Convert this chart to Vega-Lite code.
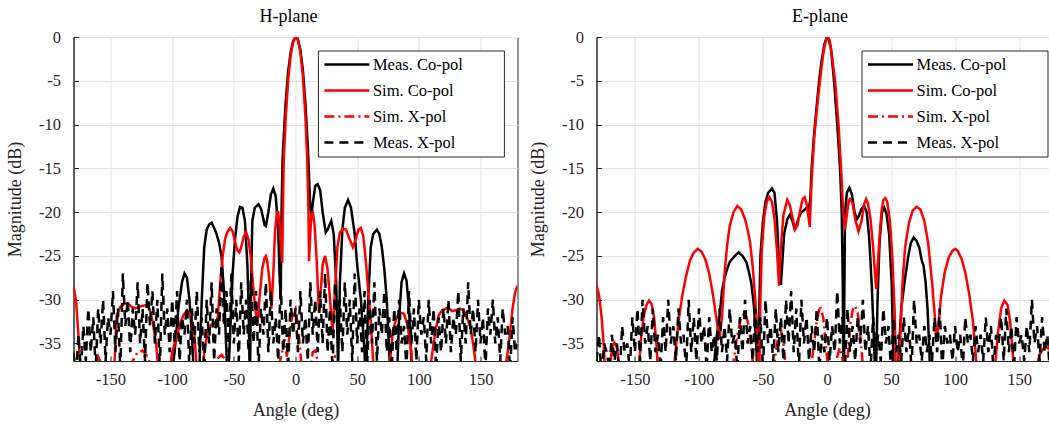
{
 "$schema":"https://vega.github.io/schema/vega-lite/v6.json",
 "background":"white",
 "padding":{"left":5.5,"top":7,"right":0,"bottom":5},
 "bounds":"flush",
 "spacing":79,
 "datasets":{
  "Hmc":[{"a":-180,"v":-45},{"a":-175,"v":-40},{"a":-170,"v":-38},{"a":-165,"v":-42},{"a":-160,"v":-39},{"a":-150,"v":-41},{"a":-140,"v":-40},{"a":-130,"v":-42},{"a":-120,"v":-40},{"a":-110,"v":-43},{"a":-102,"v":-40},{"a":-98,"v":-36},{"a":-95,"v":-31},{"a":-92,"v":-28},{"a":-90,"v":-27},{"a":-88,"v":-27.5},{"a":-86,"v":-30},{"a":-84,"v":-34},{"a":-82,"v":-40},{"a":-80,"v":-44},{"a":-78,"v":-38},{"a":-76,"v":-30},{"a":-74,"v":-24},{"a":-72,"v":-22},{"a":-70,"v":-21.4},{"a":-68,"v":-21.2},{"a":-66,"v":-21.8},{"a":-64,"v":-22.5},{"a":-62,"v":-23.5},{"a":-60,"v":-25},{"a":-58,"v":-29},{"a":-56,"v":-36},{"a":-55,"v":-40},{"a":-53,"v":-34},{"a":-51,"v":-27},{"a":-49,"v":-23},{"a":-47,"v":-20.5},{"a":-45,"v":-19.4},{"a":-43,"v":-19.5},{"a":-41,"v":-21},{"a":-39,"v":-26},{"a":-38,"v":-31},{"a":-37,"v":-40},{"a":-36,"v":-28},{"a":-35,"v":-21},{"a":-33,"v":-19.5},{"a":-30,"v":-19.1},{"a":-28,"v":-19.6},{"a":-26,"v":-20.8},{"a":-25,"v":-21.5},{"a":-24,"v":-21.6},{"a":-22,"v":-20},{"a":-20,"v":-18},{"a":-18,"v":-17.3},{"a":-16,"v":-18.2},{"a":-14,"v":-22},{"a":-13,"v":-27},{"a":-12,"v":-30},{"a":-11.3,"v":-20},{"a":-10.5,"v":-14},{"a":-9,"v":-10},{"a":-8,"v":-7.5},{"a":-6,"v":-4},{"a":-4,"v":-1.8},{"a":-2,"v":-0.5},{"a":0,"v":0},{"a":1,"v":0},{"a":2,"v":-0.3},{"a":4,"v":-1.5},{"a":6,"v":-3.8},{"a":8,"v":-7.5},{"a":10,"v":-12.5},{"a":11,"v":-16},{"a":12,"v":-19.5},{"a":13,"v":-20.5},{"a":14,"v":-19},{"a":16,"v":-17},{"a":18,"v":-16.8},{"a":20,"v":-17.5},{"a":22,"v":-20},{"a":24.5,"v":-22.3},{"a":26,"v":-22},{"a":29,"v":-21},{"a":31,"v":-22.5},{"a":33,"v":-28},{"a":34.5,"v":-38},{"a":36,"v":-28},{"a":38,"v":-22},{"a":40,"v":-19.5},{"a":42.6,"v":-18.6},{"a":45,"v":-19.5},{"a":48,"v":-22.5},{"a":50,"v":-26},{"a":53,"v":-30},{"a":56,"v":-36},{"a":57,"v":-40},{"a":59,"v":-30},{"a":61,"v":-24},{"a":63,"v":-22.5},{"a":66,"v":-22},{"a":68,"v":-22.5},{"a":70,"v":-24},{"a":72,"v":-26.5},{"a":74,"v":-30},{"a":76,"v":-36},{"a":78,"v":-42},{"a":80,"v":-45},{"a":82,"v":-40},{"a":84,"v":-32},{"a":86,"v":-28},{"a":88,"v":-27},{"a":90,"v":-27.8},{"a":92,"v":-31},{"a":94,"v":-37},{"a":96,"v":-42},{"a":100,"v":-40},{"a":110,"v":-43},{"a":120,"v":-39},{"a":130,"v":-41},{"a":140,"v":-40},{"a":150,"v":-42},{"a":160,"v":-39},{"a":170,"v":-41},{"a":180,"v":-45}],
  "Hsc":[{"a":-180,"v":-28.5},{"a":-178,"v":-30},{"a":-176,"v":-34},{"a":-174,"v":-39},{"a":-172,"v":-48},{"a":-168,"v":-42},{"a":-164,"v":-38.5},{"a":-160,"v":-36.5},{"a":-157,"v":-37.5},{"a":-154,"v":-42},{"a":-150,"v":-48},{"a":-147,"v":-38},{"a":-145,"v":-31.8},{"a":-142,"v":-30.8},{"a":-139,"v":-30.5},{"a":-136,"v":-30.4},{"a":-133,"v":-30.8},{"a":-130,"v":-31},{"a":-127,"v":-30.8},{"a":-124,"v":-30.7},{"a":-120,"v":-30.6},{"a":-118,"v":-31.2},{"a":-116,"v":-32.4},{"a":-113,"v":-35},{"a":-110,"v":-40},{"a":-108,"v":-45},{"a":-104,"v":-40},{"a":-100,"v":-36},{"a":-97,"v":-34.5},{"a":-94,"v":-33},{"a":-91,"v":-31.8},{"a":-88,"v":-31.2},{"a":-85,"v":-31.8},{"a":-82,"v":-34},{"a":-80,"v":-38},{"a":-78,"v":-45},{"a":-76,"v":-40},{"a":-74,"v":-36},{"a":-71,"v":-33.5},{"a":-68,"v":-32.8},{"a":-65,"v":-32.6},{"a":-63,"v":-32},{"a":-61,"v":-28},{"a":-59,"v":-25},{"a":-57,"v":-23},{"a":-55,"v":-22.2},{"a":-53,"v":-21.8},{"a":-51,"v":-22.2},{"a":-49,"v":-23.4},{"a":-47,"v":-24.4},{"a":-45.5,"v":-24.6},{"a":-44,"v":-24},{"a":-42,"v":-22.8},{"a":-40,"v":-22.3},{"a":-38,"v":-23.2},{"a":-36,"v":-25.5},{"a":-34.8,"v":-27.7},{"a":-33,"v":-30.5},{"a":-31,"v":-33},{"a":-29,"v":-29.5},{"a":-27,"v":-26.5},{"a":-25,"v":-25.2},{"a":-24,"v":-25},{"a":-23,"v":-25.5},{"a":-21,"v":-28},{"a":-19.5,"v":-31},{"a":-18,"v":-27},{"a":-16.5,"v":-22},{"a":-15,"v":-20},{"a":-14,"v":-20},{"a":-13,"v":-21.5},{"a":-12,"v":-23.5},{"a":-10.8,"v":-25.8},{"a":-10.2,"v":-20},{"a":-9.5,"v":-14},{"a":-8,"v":-9.5},{"a":-6,"v":-5},{"a":-4,"v":-2.2},{"a":-2,"v":-0.6},{"a":0,"v":0},{"a":1,"v":0},{"a":2,"v":-0.4},{"a":4,"v":-1.8},{"a":6,"v":-4.5},{"a":8,"v":-9},{"a":9.5,"v":-14},{"a":10.5,"v":-20},{"a":11,"v":-25.6},{"a":11.8,"v":-23},{"a":12.8,"v":-20.5},{"a":14,"v":-19.9},{"a":15.5,"v":-21.5},{"a":17,"v":-25},{"a":19,"v":-31.5},{"a":20.5,"v":-29},{"a":22,"v":-26},{"a":24,"v":-25},{"a":26,"v":-26.5},{"a":28,"v":-30},{"a":30,"v":-33.8},{"a":32,"v":-29},{"a":34,"v":-24},{"a":36,"v":-22.3},{"a":38.5,"v":-21.9},{"a":41,"v":-22},{"a":43,"v":-22.8},{"a":46.5,"v":-24},{"a":49,"v":-23},{"a":51,"v":-22},{"a":53,"v":-21.8},{"a":55,"v":-22.8},{"a":57,"v":-25.5},{"a":59,"v":-29},{"a":61,"v":-32.5},{"a":63,"v":-37},{"a":65,"v":-45},{"a":70,"v":-42},{"a":76,"v":-38},{"a":79,"v":-33.5},{"a":82,"v":-32},{"a":85,"v":-31.5},{"a":88,"v":-31.6},{"a":91,"v":-33},{"a":94,"v":-36},{"a":96,"v":-40},{"a":100,"v":-48},{"a":106,"v":-42},{"a":110,"v":-37},{"a":113,"v":-34},{"a":116,"v":-31.8},{"a":119,"v":-31.2},{"a":122,"v":-31},{"a":124,"v":-30.9},{"a":127,"v":-31.3},{"a":130,"v":-31.2},{"a":133,"v":-31},{"a":136,"v":-31.2},{"a":139,"v":-32},{"a":142,"v":-33.2},{"a":145,"v":-36},{"a":148,"v":-40},{"a":152,"v":-46},{"a":160,"v":-42},{"a":166,"v":-40},{"a":170,"v":-38},{"a":173,"v":-35},{"a":176,"v":-31},{"a":178,"v":-29.2},{"a":180,"v":-28.4}],
  "Hsx":[{"a":-180,"v":-45},{"a":-170,"v":-42},{"a":-160,"v":-40},{"a":-150,"v":-41},{"a":-140,"v":-39},{"a":-134,"v":-37.5},{"a":-128,"v":-36},{"a":-124,"v":-35.8},{"a":-120,"v":-36.5},{"a":-116,"v":-38},{"a":-110,"v":-42},{"a":-100,"v":-40},{"a":-90,"v":-42},{"a":-80,"v":-40},{"a":-70,"v":-38.5},{"a":-64,"v":-36.8},{"a":-60,"v":-36.3},{"a":-56,"v":-37},{"a":-50,"v":-40},{"a":-44,"v":-41},{"a":-38,"v":-39},{"a":-32,"v":-42},{"a":-26,"v":-39},{"a":-20,"v":-40},{"a":-14,"v":-38},{"a":-11,"v":-36},{"a":-9,"v":-34.5},{"a":-7,"v":-36.5},{"a":-4,"v":-33},{"a":-2,"v":-31.5},{"a":0,"v":-31},{"a":2,"v":-33},{"a":4,"v":-36},{"a":6,"v":-40},{"a":9,"v":-42},{"a":12,"v":-38},{"a":14,"v":-36},{"a":16,"v":-35.8},{"a":18,"v":-37},{"a":22,"v":-41},{"a":27,"v":-38},{"a":32,"v":-36.5},{"a":36,"v":-37.5},{"a":40,"v":-41},{"a":50,"v":-43},{"a":60,"v":-40},{"a":70,"v":-42},{"a":80,"v":-39},{"a":90,"v":-41},{"a":100,"v":-39},{"a":110,"v":-38.5},{"a":120,"v":-40},{"a":130,"v":-38},{"a":140,"v":-39},{"a":150,"v":-42},{"a":160,"v":-39},{"a":170,"v":-41},{"a":180,"v":-45}],
  "Hmx":[{"a":-180,"v":-36},{"a":-178,"v":-39},{"a":-176,"v":-34},{"a":-174,"v":-38},{"a":-172,"v":-33},{"a":-170,"v":-37},{"a":-168,"v":-31},{"a":-166,"v":-36},{"a":-164,"v":-32},{"a":-162,"v":-38},{"a":-160,"v":-31},{"a":-158,"v":-35},{"a":-156,"v":-30},{"a":-154,"v":-37},{"a":-152,"v":-32},{"a":-150,"v":-34},{"a":-148,"v":-29},{"a":-146,"v":-36},{"a":-144,"v":-31},{"a":-142,"v":-38},{"a":-140,"v":-27},{"a":-138,"v":-33},{"a":-136,"v":-30},{"a":-134,"v":-36},{"a":-132,"v":-31},{"a":-130,"v":-34},{"a":-128,"v":-28},{"a":-126,"v":-35},{"a":-124,"v":-31},{"a":-122,"v":-37},{"a":-120,"v":-28},{"a":-118,"v":-33},{"a":-116,"v":-29},{"a":-114,"v":-35},{"a":-112,"v":-30},{"a":-110,"v":-38},{"a":-108,"v":-27},{"a":-106,"v":-34},{"a":-104,"v":-31},{"a":-102,"v":-36},{"a":-100,"v":-30},{"a":-98,"v":-35},{"a":-96,"v":-29},{"a":-94,"v":-37},{"a":-92,"v":-32},{"a":-90,"v":-34},{"a":-88,"v":-30},{"a":-86,"v":-38},{"a":-84,"v":-31},{"a":-82,"v":-35},{"a":-80,"v":-29},{"a":-78,"v":-36},{"a":-76,"v":-32},{"a":-74,"v":-38},{"a":-72,"v":-30},{"a":-70,"v":-35},{"a":-68,"v":-28},{"a":-66,"v":-37},{"a":-64,"v":-31},{"a":-62,"v":-34},{"a":-60,"v":-26},{"a":-58,"v":-33},{"a":-56,"v":-29},{"a":-54,"v":-36},{"a":-52,"v":-27},{"a":-50,"v":-35},{"a":-48,"v":-30},{"a":-46,"v":-37},{"a":-44,"v":-28},{"a":-42,"v":-34},{"a":-40,"v":-30},{"a":-38,"v":-36},{"a":-36,"v":-27},{"a":-34,"v":-35},{"a":-32,"v":-29},{"a":-30,"v":-38},{"a":-28,"v":-31},{"a":-26,"v":-34},{"a":-24,"v":-28},{"a":-22,"v":-36},{"a":-20,"v":-29},{"a":-18,"v":-35},{"a":-16,"v":-32},{"a":-14,"v":-37},{"a":-12,"v":-28},{"a":-10,"v":-36},{"a":-8,"v":-31},{"a":-6,"v":-38},{"a":-4,"v":-30},{"a":-2,"v":-34},{"a":0,"v":-31},{"a":2,"v":-36},{"a":4,"v":-29},{"a":6,"v":-35},{"a":8,"v":-32},{"a":10,"v":-37},{"a":12,"v":-28},{"a":14,"v":-34},{"a":16,"v":-30},{"a":18,"v":-36},{"a":20,"v":-29},{"a":22,"v":-35},{"a":24,"v":-27},{"a":26,"v":-36},{"a":28,"v":-31},{"a":30,"v":-38},{"a":32,"v":-28},{"a":34,"v":-33},{"a":36,"v":-30},{"a":38,"v":-36},{"a":40,"v":-28},{"a":42,"v":-34},{"a":44,"v":-30},{"a":46,"v":-37},{"a":48,"v":-27},{"a":50,"v":-35},{"a":52,"v":-31},{"a":54,"v":-36},{"a":56,"v":-29},{"a":58,"v":-38},{"a":60,"v":-30},{"a":62,"v":-35},{"a":64,"v":-28},{"a":66,"v":-37},{"a":68,"v":-31},{"a":70,"v":-34},{"a":72,"v":-29},{"a":74,"v":-36},{"a":76,"v":-32},{"a":78,"v":-38},{"a":80,"v":-31},{"a":82,"v":-36},{"a":84,"v":-30},{"a":86,"v":-35},{"a":88,"v":-33},{"a":90,"v":-38},{"a":92,"v":-29},{"a":94,"v":-35},{"a":96,"v":-31},{"a":98,"v":-37},{"a":100,"v":-30},{"a":102,"v":-34},{"a":104,"v":-32},{"a":106,"v":-37},{"a":108,"v":-30},{"a":110,"v":-35},{"a":112,"v":-31},{"a":114,"v":-38},{"a":116,"v":-32},{"a":118,"v":-36},{"a":120,"v":-31},{"a":122,"v":-35},{"a":124,"v":-30},{"a":126,"v":-36},{"a":128,"v":-32},{"a":130,"v":-34},{"a":132,"v":-29},{"a":134,"v":-37},{"a":136,"v":-31},{"a":138,"v":-35},{"a":140,"v":-28},{"a":142,"v":-34},{"a":144,"v":-31},{"a":146,"v":-36},{"a":148,"v":-30},{"a":150,"v":-35},{"a":152,"v":-32},{"a":154,"v":-38},{"a":156,"v":-31},{"a":158,"v":-34},{"a":160,"v":-30},{"a":162,"v":-35},{"a":164,"v":-32},{"a":166,"v":-37},{"a":168,"v":-31},{"a":170,"v":-34},{"a":172,"v":-33},{"a":174,"v":-38},{"a":176,"v":-32},{"a":178,"v":-36},{"a":180,"v":-35}],
  "Emc":[{"a":-180,"v":-42},{"a":-170,"v":-40},{"a":-160,"v":-43},{"a":-150,"v":-39},{"a":-140,"v":-41},{"a":-130,"v":-40},{"a":-120,"v":-42},{"a":-110,"v":-39},{"a":-100,"v":-41},{"a":-95,"v":-39},{"a":-90,"v":-40},{"a":-88,"v":-37},{"a":-86,"v":-34},{"a":-84,"v":-32},{"a":-82,"v":-29},{"a":-80,"v":-27.5},{"a":-78,"v":-26.5},{"a":-76,"v":-25.7},{"a":-72,"v":-25},{"a":-69,"v":-24.6},{"a":-66,"v":-25},{"a":-63,"v":-25.7},{"a":-61,"v":-26.8},{"a":-59,"v":-28.2},{"a":-57,"v":-30.8},{"a":-55,"v":-36},{"a":-54,"v":-40},{"a":-53,"v":-32},{"a":-52,"v":-25},{"a":-50,"v":-21},{"a":-48,"v":-18.8},{"a":-46,"v":-17.8},{"a":-43,"v":-17.3},{"a":-41,"v":-17.8},{"a":-39,"v":-21},{"a":-37.5,"v":-26},{"a":-36,"v":-28.3},{"a":-35,"v":-26},{"a":-33.5,"v":-22.5},{"a":-31,"v":-20.8},{"a":-29,"v":-20.3},{"a":-27,"v":-21},{"a":-25.5,"v":-21.8},{"a":-24,"v":-21.5},{"a":-22,"v":-20.6},{"a":-20,"v":-20},{"a":-18,"v":-19.8},{"a":-16,"v":-19.5},{"a":-14.5,"v":-19.8},{"a":-13,"v":-18.5},{"a":-12,"v":-15},{"a":-10,"v":-11},{"a":-8,"v":-7.8},{"a":-6,"v":-4.8},{"a":-4,"v":-2.5},{"a":-2,"v":-0.8},{"a":0,"v":0},{"a":1,"v":-0.1},{"a":3,"v":-1.2},{"a":5.5,"v":-5},{"a":8,"v":-10},{"a":10.2,"v":-15},{"a":11.5,"v":-20},{"a":12.3,"v":-28},{"a":13,"v":-42},{"a":13.5,"v":-30},{"a":14.1,"v":-20},{"a":15.5,"v":-17.8},{"a":17.5,"v":-17.2},{"a":19.5,"v":-18},{"a":21.5,"v":-20},{"a":23.3,"v":-20.8},{"a":25,"v":-20.4},{"a":27,"v":-19.6},{"a":29,"v":-19.3},{"a":31,"v":-20},{"a":33,"v":-23},{"a":35,"v":-28.5},{"a":36.5,"v":-34},{"a":38,"v":-40},{"a":39.5,"v":-30},{"a":41,"v":-23.5},{"a":43,"v":-20},{"a":44.7,"v":-19.5},{"a":46.5,"v":-20.2},{"a":48.5,"v":-22.5},{"a":50.5,"v":-28},{"a":52,"v":-38},{"a":53.5,"v":-45},{"a":56,"v":-36},{"a":58,"v":-31},{"a":61,"v":-27.5},{"a":63.5,"v":-25},{"a":65.5,"v":-23.5},{"a":67.7,"v":-22.9},{"a":70,"v":-23.3},{"a":72,"v":-24},{"a":74,"v":-25.5},{"a":75.5,"v":-26.2},{"a":77,"v":-28},{"a":78.5,"v":-31},{"a":80,"v":-36},{"a":81,"v":-42},{"a":85,"v":-45},{"a":90,"v":-40},{"a":100,"v":-42},{"a":110,"v":-40},{"a":120,"v":-43},{"a":130,"v":-41},{"a":140,"v":-40},{"a":150,"v":-42},{"a":160,"v":-40},{"a":170,"v":-41},{"a":180,"v":-43}],
  "Esc":[{"a":-180,"v":-28.3},{"a":-178,"v":-29.5},{"a":-176,"v":-32},{"a":-174,"v":-36},{"a":-172.5,"v":-45},{"a":-170,"v":-38},{"a":-167.5,"v":-35.2},{"a":-166,"v":-34.9},{"a":-164,"v":-35.5},{"a":-162,"v":-38},{"a":-160,"v":-45},{"a":-150,"v":-42},{"a":-147,"v":-38},{"a":-145,"v":-34},{"a":-143,"v":-31.8},{"a":-141,"v":-30.6},{"a":-139,"v":-30.1},{"a":-137,"v":-30.5},{"a":-135,"v":-32},{"a":-133,"v":-35.5},{"a":-131.5,"v":-40},{"a":-128,"v":-48},{"a":-122,"v":-42},{"a":-119,"v":-37},{"a":-116,"v":-32.5},{"a":-113,"v":-29.5},{"a":-110,"v":-27.3},{"a":-107,"v":-25.5},{"a":-104,"v":-24.6},{"a":-101,"v":-24.2},{"a":-98,"v":-24.5},{"a":-95,"v":-25.4},{"a":-92,"v":-27},{"a":-89,"v":-29.5},{"a":-86,"v":-32.5},{"a":-84,"v":-34.5},{"a":-82,"v":-32},{"a":-80,"v":-27},{"a":-78,"v":-23.8},{"a":-76,"v":-21.6},{"a":-73,"v":-20},{"a":-70,"v":-19.3},{"a":-67,"v":-19.7},{"a":-64,"v":-20.8},{"a":-62,"v":-22},{"a":-60,"v":-23.5},{"a":-58,"v":-26.3},{"a":-56,"v":-30},{"a":-54,"v":-35},{"a":-53,"v":-40},{"a":-52,"v":-30},{"a":-51,"v":-24.5},{"a":-49,"v":-20.5},{"a":-47,"v":-18.8},{"a":-45,"v":-18.3},{"a":-43,"v":-18.8},{"a":-41,"v":-20.8},{"a":-39,"v":-24.5},{"a":-37.5,"v":-28.4},{"a":-36,"v":-24},{"a":-34,"v":-20.3},{"a":-31,"v":-18.6},{"a":-29,"v":-19.2},{"a":-27,"v":-20.6},{"a":-25,"v":-22},{"a":-23,"v":-21.5},{"a":-21,"v":-19.8},{"a":-19,"v":-18.5},{"a":-17.5,"v":-18.3},{"a":-16,"v":-19},{"a":-14.5,"v":-20.5},{"a":-13.5,"v":-21.7},{"a":-12.5,"v":-18},{"a":-11.5,"v":-15},{"a":-10,"v":-11.5},{"a":-9,"v":-10},{"a":-7,"v":-7},{"a":-5.5,"v":-5},{"a":-3,"v":-2},{"a":-1,"v":-0.4},{"a":0.5,"v":0},{"a":2,"v":-0.3},{"a":4,"v":-2.3},{"a":6.3,"v":-5},{"a":7.5,"v":-7.2},{"a":9,"v":-10},{"a":10,"v":-12.5},{"a":11,"v":-15},{"a":12,"v":-18},{"a":12.8,"v":-20},{"a":14,"v":-22},{"a":15.5,"v":-20.3},{"a":17,"v":-18.7},{"a":18,"v":-18.5},{"a":20,"v":-19},{"a":22,"v":-20.8},{"a":24.6,"v":-22.2},{"a":27,"v":-21},{"a":29,"v":-19.1},{"a":30.6,"v":-18.5},{"a":32,"v":-19},{"a":34,"v":-20.8},{"a":36,"v":-24},{"a":38.4,"v":-28.8},{"a":40.5,"v":-24},{"a":42.5,"v":-20},{"a":44,"v":-18.6},{"a":45.5,"v":-18.4},{"a":47,"v":-18.8},{"a":49,"v":-20.8},{"a":51,"v":-25},{"a":53,"v":-32},{"a":54,"v":-40},{"a":55,"v":-42},{"a":57,"v":-35},{"a":59,"v":-28},{"a":61,"v":-24},{"a":64,"v":-21.2},{"a":67,"v":-19.8},{"a":70,"v":-19.4},{"a":73,"v":-19.7},{"a":76,"v":-21},{"a":79,"v":-23.5},{"a":82,"v":-28},{"a":84,"v":-31.5},{"a":85.4,"v":-34.7},{"a":87,"v":-33},{"a":89,"v":-29.7},{"a":92,"v":-26.8},{"a":95,"v":-25.2},{"a":98,"v":-24.4},{"a":100,"v":-24.2},{"a":102,"v":-24.4},{"a":105,"v":-25.3},{"a":108,"v":-26.9},{"a":111,"v":-29.3},{"a":114,"v":-32.5},{"a":116,"v":-36},{"a":118,"v":-40},{"a":120,"v":-45},{"a":126,"v":-42},{"a":131,"v":-38},{"a":133.5,"v":-33.8},{"a":136,"v":-31},{"a":138.5,"v":-30.1},{"a":141,"v":-30.6},{"a":143,"v":-32.5},{"a":145,"v":-36},{"a":147,"v":-40},{"a":152,"v":-45},{"a":160,"v":-42},{"a":163,"v":-38},{"a":166,"v":-36.3},{"a":170,"v":-35.3},{"a":173,"v":-35.6},{"a":176,"v":-32.5},{"a":178,"v":-30},{"a":180,"v":-28.3}],
  "Esx":[{"a":-180,"v":-44},{"a":-170,"v":-41},{"a":-160,"v":-43},{"a":-150,"v":-40},{"a":-140,"v":-42},{"a":-130,"v":-40},{"a":-120,"v":-43},{"a":-110,"v":-41},{"a":-100,"v":-44},{"a":-90,"v":-40},{"a":-80,"v":-42},{"a":-74,"v":-38},{"a":-70,"v":-34},{"a":-67,"v":-32},{"a":-64,"v":-31.5},{"a":-61,"v":-33},{"a":-58,"v":-37},{"a":-55,"v":-42},{"a":-50,"v":-45},{"a":-44,"v":-40},{"a":-40,"v":-36},{"a":-38,"v":-34},{"a":-36,"v":-33.5},{"a":-34,"v":-35},{"a":-32,"v":-38},{"a":-28,"v":-44},{"a":-20,"v":-45},{"a":-14,"v":-40},{"a":-11,"v":-36},{"a":-8,"v":-32.5},{"a":-5.5,"v":-30.7},{"a":-3,"v":-32},{"a":-1,"v":-35},{"a":1,"v":-38},{"a":3,"v":-42},{"a":6,"v":-40},{"a":8,"v":-36.5},{"a":10,"v":-35.5},{"a":12,"v":-36.5},{"a":14,"v":-40},{"a":16,"v":-37},{"a":18,"v":-33},{"a":20,"v":-31.2},{"a":22,"v":-30.7},{"a":24,"v":-31.5},{"a":26,"v":-34},{"a":28,"v":-37.5},{"a":31,"v":-42},{"a":40,"v":-44},{"a":50,"v":-41},{"a":60,"v":-43},{"a":70,"v":-40},{"a":80,"v":-42},{"a":90,"v":-44},{"a":100,"v":-41},{"a":110,"v":-43},{"a":120,"v":-40},{"a":130,"v":-42},{"a":140,"v":-44},{"a":150,"v":-41},{"a":160,"v":-43},{"a":170,"v":-40},{"a":180,"v":-44}],
  "Emx":[{"a":-180,"v":-37},{"a":-178,"v":-34},{"a":-176,"v":-39},{"a":-174,"v":-35},{"a":-172,"v":-36},{"a":-170,"v":-38},{"a":-168,"v":-34},{"a":-166,"v":-37},{"a":-164,"v":-35},{"a":-162,"v":-39},{"a":-160,"v":-33},{"a":-158,"v":-36},{"a":-156,"v":-35},{"a":-154,"v":-38},{"a":-152,"v":-32},{"a":-150,"v":-36},{"a":-148,"v":-31},{"a":-146,"v":-37},{"a":-144,"v":-30},{"a":-142,"v":-35},{"a":-140,"v":-33},{"a":-138,"v":-37},{"a":-136,"v":-31},{"a":-134,"v":-36},{"a":-132,"v":-34},{"a":-130,"v":-38},{"a":-128,"v":-32},{"a":-126,"v":-36},{"a":-124,"v":-30},{"a":-122,"v":-35},{"a":-120,"v":-33},{"a":-118,"v":-37},{"a":-116,"v":-31},{"a":-114,"v":-35},{"a":-112,"v":-34},{"a":-110,"v":-38},{"a":-108,"v":-30},{"a":-106,"v":-36},{"a":-104,"v":-32},{"a":-102,"v":-37},{"a":-100,"v":-31},{"a":-98,"v":-35},{"a":-96,"v":-33},{"a":-94,"v":-38},{"a":-92,"v":-32},{"a":-90,"v":-36},{"a":-88,"v":-34},{"a":-86,"v":-37},{"a":-84,"v":-31},{"a":-82,"v":-36},{"a":-80,"v":-33},{"a":-78,"v":-37},{"a":-76,"v":-31},{"a":-74,"v":-35},{"a":-72,"v":-34},{"a":-70,"v":-38},{"a":-68,"v":-32},{"a":-66,"v":-36},{"a":-64,"v":-30},{"a":-62,"v":-35},{"a":-60,"v":-33},{"a":-58,"v":-37},{"a":-56,"v":-31},{"a":-54,"v":-36},{"a":-52,"v":-32},{"a":-50,"v":-38},{"a":-48,"v":-30},{"a":-46,"v":-35},{"a":-44,"v":-33},{"a":-42,"v":-37},{"a":-40,"v":-31},{"a":-38,"v":-36},{"a":-36,"v":-32},{"a":-34,"v":-37},{"a":-32,"v":-30},{"a":-30,"v":-35},{"a":-28,"v":-29},{"a":-26,"v":-36},{"a":-24,"v":-31},{"a":-22,"v":-38},{"a":-20,"v":-30},{"a":-18,"v":-35},{"a":-16,"v":-32},{"a":-14,"v":-37},{"a":-12,"v":-33},{"a":-10,"v":-36},{"a":-8,"v":-31},{"a":-6,"v":-38},{"a":-4,"v":-34},{"a":-2,"v":-36},{"a":0,"v":-32},{"a":2,"v":-37},{"a":4,"v":-33},{"a":6,"v":-36},{"a":8,"v":-29},{"a":10,"v":-35},{"a":12,"v":-32},{"a":14,"v":-38},{"a":16,"v":-31},{"a":18,"v":-36},{"a":20,"v":-33},{"a":22,"v":-37},{"a":24,"v":-32},{"a":26,"v":-35},{"a":28,"v":-30},{"a":30,"v":-36},{"a":32,"v":-33},{"a":34,"v":-38},{"a":36,"v":-32},{"a":38,"v":-36},{"a":40,"v":-34},{"a":42,"v":-37},{"a":44,"v":-31},{"a":46,"v":-35},{"a":48,"v":-33},{"a":50,"v":-38},{"a":52,"v":-32},{"a":54,"v":-36},{"a":56,"v":-34},{"a":58,"v":-37},{"a":60,"v":-32},{"a":62,"v":-36},{"a":64,"v":-33},{"a":66,"v":-38},{"a":68,"v":-30},{"a":70,"v":-35},{"a":72,"v":-34},{"a":74,"v":-37},{"a":76,"v":-33},{"a":78,"v":-36},{"a":80,"v":-34},{"a":82,"v":-37},{"a":84,"v":-32},{"a":86,"v":-36},{"a":88,"v":-31},{"a":90,"v":-38},{"a":92,"v":-33},{"a":94,"v":-35},{"a":96,"v":-34},{"a":98,"v":-37},{"a":100,"v":-33},{"a":102,"v":-36},{"a":104,"v":-34},{"a":106,"v":-38},{"a":108,"v":-32},{"a":110,"v":-35},{"a":112,"v":-34},{"a":114,"v":-37},{"a":116,"v":-33},{"a":118,"v":-36},{"a":120,"v":-34},{"a":122,"v":-37},{"a":124,"v":-32},{"a":126,"v":-36},{"a":128,"v":-33},{"a":130,"v":-38},{"a":132,"v":-34},{"a":134,"v":-35},{"a":136,"v":-32},{"a":138,"v":-37},{"a":140,"v":-31},{"a":142,"v":-36},{"a":144,"v":-33},{"a":146,"v":-38},{"a":148,"v":-32},{"a":150,"v":-35},{"a":152,"v":-34},{"a":154,"v":-37},{"a":156,"v":-33},{"a":158,"v":-36},{"a":160,"v":-30},{"a":162,"v":-35},{"a":164,"v":-33},{"a":166,"v":-37},{"a":168,"v":-32},{"a":170,"v":-36},{"a":172,"v":-34},{"a":174,"v":-38},{"a":176,"v":-31},{"a":178,"v":-35},{"a":180,"v":-36}]
 },
 "hconcat":[
  {
   "width":444,"height":324,
   "title":{"text":"H-plane","dx":-7},
   "encoding":{
    "x":{"field":"a","type":"quantitative","scale":{"domain":[-180,180],"nice":false,"zero":false},"axis":{"title":"Angle (deg)","values":[-150,-100,-50,0,50,100,150],"labelExpr":"'' + datum.value"}},
    "y":{"field":"v","type":"quantitative","scale":{"domain":[-37,0],"nice":false,"zero":false},"axis":{"title":"Magnitude (dB)","values":[-35,-30,-25,-20,-15,-10,-5,0],"labelExpr":"'' + datum.value"}}
   },
   "layer":[
    {"data":{"name":"Hmc"},"mark":{"type":"line","clip":true,"strokeWidth":2.5},
     "encoding":{
      "color":{"datum":"Meas. Co-pol","type":"nominal","scale":{"domain":["Meas. Co-pol","Sim. Co-pol","Sim. X-pol","Meas. X-pol"],"range":["#000000","#ff0000","#ff0000","#000000"]},"legend":{"title":null,"orient":"none","legendX":244.4,"legendY":13.5,"labelExpr":"datum.label + '\u2800\u2800\u2800'"}},
      "strokeDash":{"datum":"Meas. Co-pol","type":"nominal","scale":{"domain":["Meas. Co-pol","Sim. Co-pol","Sim. X-pol","Meas. X-pol"],"range":[[1,0],[1,0],[10,4,2,4],[9,6]]},"legend":{"title":null,"orient":"none","legendX":244.4,"legendY":13.5,"labelExpr":"datum.label + '\u2800\u2800\u2800'"}}
     }},
    {"data":{"name":"Hsc"},"mark":{"type":"line","clip":true,"strokeWidth":2.5},"encoding":{"color":{"datum":"Sim. Co-pol","type":"nominal"},"strokeDash":{"datum":"Sim. Co-pol","type":"nominal"}}},
    {"data":{"name":"Hsx"},"mark":{"type":"line","clip":true,"strokeWidth":2.5},"encoding":{"color":{"datum":"Sim. X-pol","type":"nominal"},"strokeDash":{"datum":"Sim. X-pol","type":"nominal"}}},
    {"data":{"name":"Hmx"},"mark":{"type":"line","clip":true,"strokeWidth":2.5},"encoding":{"color":{"datum":"Meas. X-pol","type":"nominal"},"strokeDash":{"datum":"Meas. X-pol","type":"nominal"}}}
   ]
  },
  {
   "width":461,"height":324,
   "title":{"text":"E-plane","dx":-7},
   "encoding":{
    "x":{"field":"a","type":"quantitative","scale":{"domain":[-180,180],"nice":false,"zero":false},"axis":{"title":"Angle (deg)","values":[-150,-100,-50,0,50,100,150],"labelExpr":"'' + datum.value"}},
    "y":{"field":"v","type":"quantitative","scale":{"domain":[-37,0],"nice":false,"zero":false},"axis":{"title":"Magnitude (dB)","values":[-35,-30,-25,-20,-15,-10,-5,0],"labelExpr":"'' + datum.value"}}
   },
   "layer":[
    {"data":{"name":"Emc"},"mark":{"type":"line","clip":true,"strokeWidth":2.5},
     "encoding":{
      "color":{"datum":"Meas. Co-pol","type":"nominal","scale":{"domain":["Meas. Co-pol","Sim. Co-pol","Sim. X-pol","Meas. X-pol"],"range":["#000000","#ff0000","#ff0000","#000000"]},"legend":{"title":null,"orient":"none","legendX":265,"legendY":13.5,"labelExpr":"datum.label + '\u2800\u2800\u2800'"}},
      "strokeDash":{"datum":"Meas. Co-pol","type":"nominal","scale":{"domain":["Meas. Co-pol","Sim. Co-pol","Sim. X-pol","Meas. X-pol"],"range":[[1,0],[1,0],[10,4,2,4],[9,6]]},"legend":{"title":null,"orient":"none","legendX":265,"legendY":13.5,"labelExpr":"datum.label + '\u2800\u2800\u2800'"}}
     }},
    {"data":{"name":"Esc"},"mark":{"type":"line","clip":true,"strokeWidth":2.5},"encoding":{"color":{"datum":"Sim. Co-pol","type":"nominal"},"strokeDash":{"datum":"Sim. Co-pol","type":"nominal"}}},
    {"data":{"name":"Esx"},"mark":{"type":"line","clip":true,"strokeWidth":2.5},"encoding":{"color":{"datum":"Sim. X-pol","type":"nominal"},"strokeDash":{"datum":"Sim. X-pol","type":"nominal"}}},
    {"data":{"name":"Emx"},"mark":{"type":"line","clip":true,"strokeWidth":2.5},"encoding":{"color":{"datum":"Meas. X-pol","type":"nominal"},"strokeDash":{"datum":"Meas. X-pol","type":"nominal"}}}
   ]
  }
 ],
 "resolve":{"scale":{"color":"independent","strokeDash":"independent"},"legend":{"color":"independent","strokeDash":"independent"}},
 "config":{
  "font":"Liberation Serif",
  "view":{"stroke":"#262626","strokeWidth":1},
  "axis":{"labelFont":"Liberation Serif","labelFontSize":16.5,"labelColor":"#262626","titleFont":"Liberation Serif","titleFontSize":18,"titleFontWeight":"normal","titleColor":"#262626","domainColor":"#262626","tickColor":"#262626","tickSize":-5,"gridColor":"#e3e3e3","gridWidth":1,"gridOpacity":1},
  "axisX":{"labelPadding":15,"titlePadding":14},
  "axisY":{"labelPadding":18,"titlePadding":14},
  "title":{"font":"Liberation Serif","fontSize":18,"fontWeight":"normal","color":"#000000","offset":3.5},
  "legend":{"symbolType":"stroke","symbolSize":2025,"symbolStrokeWidth":2.5,"labelFont":"Liberation Serif","labelFontSize":16.5,"labelColor":"#000000","strokeColor":"#262626","fillColor":"#ffffff","padding":5,"rowPadding":8,"clipHeight":18,"labelOffset":2}
 }
}
